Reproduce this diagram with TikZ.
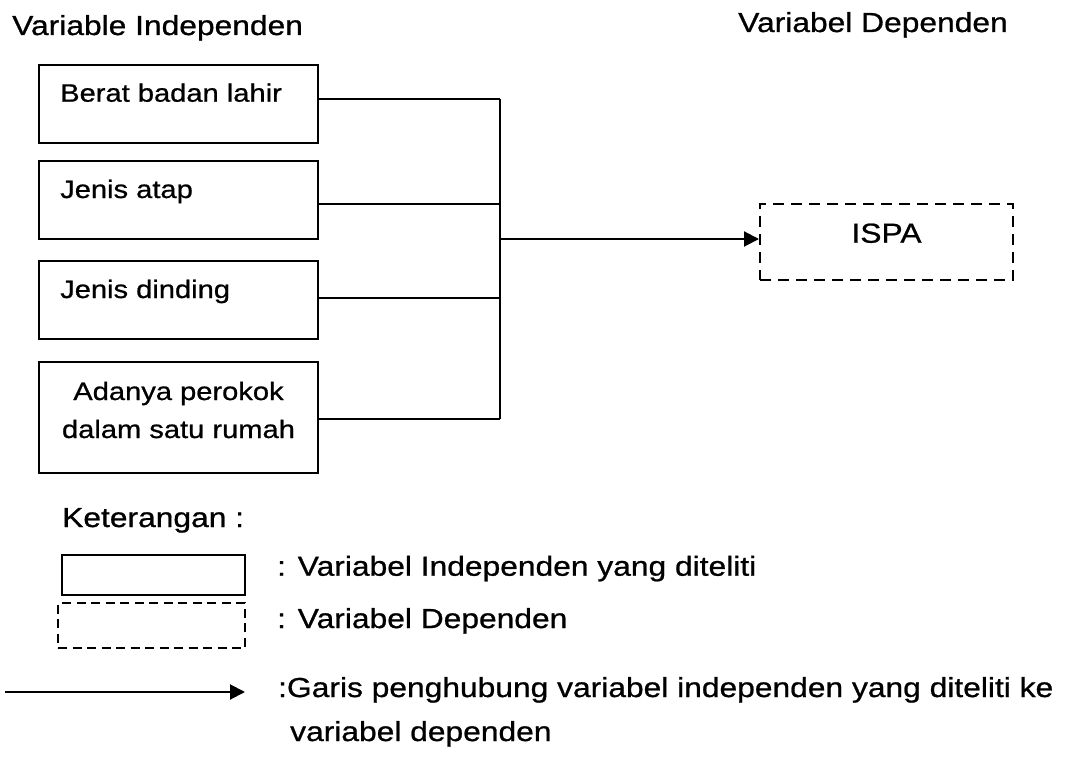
\documentclass[tikz,border=0pt]{standalone}
\usepackage{fontspec}
\setmainfont{Liberation Sans}[FakeStretch=1.155, FakeBold=0.8]
\usetikzlibrary{arrows.meta}

\tikzset{
  txt/.style={inner sep=0pt, anchor=base west, font=\fontsize{27.5}{33}\selectfont},
  boxtxt/.style={inner sep=0pt, anchor=base west, font=\fontsize{25.2}{30}\selectfont},
  varbox/.style={draw, line width=2pt, rectangle, inner sep=0pt},
  depbox/.style={draw, line width=2pt, rectangle, inner sep=0pt, dash pattern=on 11pt off 7pt},
  legdashbox/.style={draw, line width=2pt, rectangle, inner sep=0pt, dash pattern=on 9pt off 5.5pt},
  wire/.style={line width=2pt},
  arr/.style={line width=2pt, -{Triangle[length=15pt,width=15pt]}}
}

\begin{document}
\begin{tikzpicture}[x=1pt,y=-1pt]
\useasboundingbox (0,0) rectangle (1075,757);

% headings
\node[txt] (hind) at (12,35) {Variable Independen};
\node[txt] (hdep) at (738,32) {Variabel Dependen};

% independent variable boxes
\node[varbox, minimum width=279pt, minimum height=78pt] (b1) at (178.5,104) {};
\node[varbox, minimum width=279pt, minimum height=78pt] (b2) at (178.5,200) {};
\node[varbox, minimum width=279pt, minimum height=78pt] (b3) at (178.5,300) {};
\node[varbox, minimum width=279pt, minimum height=111pt] (b4) at (178.5,417.5) {};

\node[boxtxt] (t1) at (60,101.7) {Berat badan lahir};
\node[boxtxt] (t2) at (60,198) {Jenis atap};
\node[boxtxt] (t3) at (60,298) {Jenis dinding};
\node[boxtxt, anchor=base] (t4a) at (178.5,400) {Adanya perokok};
\node[boxtxt, anchor=base] (t4b) at (178.5,438) {dalam satu rumah};

% dependent variable box
\node[depbox, minimum width=253pt, minimum height=76pt] (ispa) at (886.5,242) {};
\node[txt, anchor=base] (tispa) at (886.5,242.7) {ISPA};

% junctions on the collecting line
\coordinate (j1) at (500,99);
\coordinate (j2) at (500,204);
\coordinate (j3) at (500,298);
\coordinate (j4) at (500,419);
\coordinate (jm) at (500,239);

\draw[wire] (j1 -| b1.east) -- (j1);
\draw[wire] (j2 -| b2.east) -- (j2);
\draw[wire] (j3 -| b3.east) -- (j3);
\draw[wire] (j4 -| b4.east) -- (j4);
\draw[wire] (j1) -- (j4);
\draw[arr] (jm) -- (jm -| ispa.west);

% legend
\node[txt] (ket) at (62,527) {Keterangan :};
\node[varbox, minimum width=183pt, minimum height=40pt] (lsolid) at (153.5,575) {};
\node[legdashbox, minimum width=187pt, minimum height=45pt] (ldash) at (151.5,625.5) {};
\coordinate (la) at (5,692);
\coordinate (lb) at (245,692);
\draw[arr] (la) -- (lb);

\node[txt] (l1) at (277,575.7) {: Variabel Independen yang diteliti};
\node[txt] (l2) at (277,628) {: Variabel Dependen};
\node[txt] (l3) at (278,697) {:Garis penghubung variabel independen yang diteliti ke};
\node[txt] (l4) at (290,741) {variabel dependen};
\end{tikzpicture}
\end{document}
